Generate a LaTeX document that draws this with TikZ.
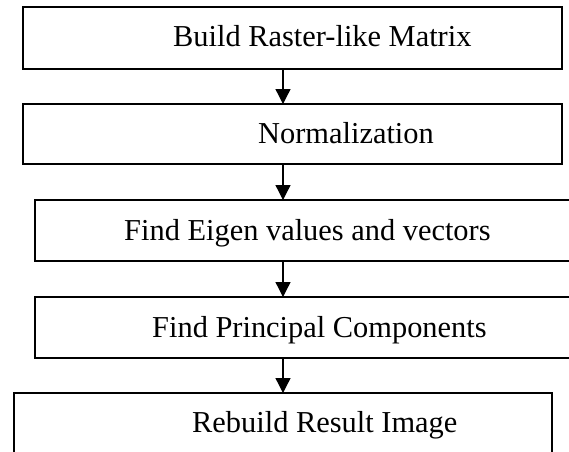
\documentclass[tikz,border=0pt]{standalone}
\usepackage{fontspec}
\setmainfont{Liberation Serif}
\usetikzlibrary{arrows.meta}
\begin{document}
\begin{tikzpicture}[x=1pt,y=-1pt,
  boxstyle/.style={draw=black, line width=1.3pt, inner sep=0pt, outer sep=0pt},
  lbl/.style={anchor=base west, inner sep=0pt, font=\fontsize{30.4}{36}\selectfont},
  arr/.style={line width=1.3pt, -{Triangle[length=15pt,width=15pt]}}]
\useasboundingbox (0,0) rectangle (569,451);
\clip (0,0) rectangle (569,451);
\node[boxstyle, minimum width=539pt, minimum height=62pt] (b1) at (292.5,38) {};
\node[boxstyle, minimum width=539pt, minimum height=60pt] (b2) at (292.5,134) {};
\node[boxstyle, minimum width=540pt, minimum height=61pt] (b3) at (305,230.5) {};
\node[boxstyle, minimum width=540pt, minimum height=61pt] (b4) at (305,327.5) {};
\node[boxstyle, minimum width=538pt, minimum height=77pt] (b5) at (283,431.5) {};
\node[lbl] (t1) at (173,46) {Build Raster-like Matrix};
\node[lbl] (t2) at (258,143) {Normalization};
\node[lbl] (t3) at (124,240) {Find Eigen values and vectors};
\node[lbl] (t4) at (152,337) {Find Principal Components};
\node[lbl] (t5) at (192,432) {Rebuild Result Image};
\coordinate (ax) at (283,0);
\draw[arr] (b1.south -| ax) -- (b2.north -| ax);
\draw[arr] (b2.south -| ax) -- (b3.north -| ax);
\draw[arr] (b3.south -| ax) -- (b4.north -| ax);
\draw[arr] (b4.south -| ax) -- (b5.north -| ax);
\end{tikzpicture}
\end{document}
